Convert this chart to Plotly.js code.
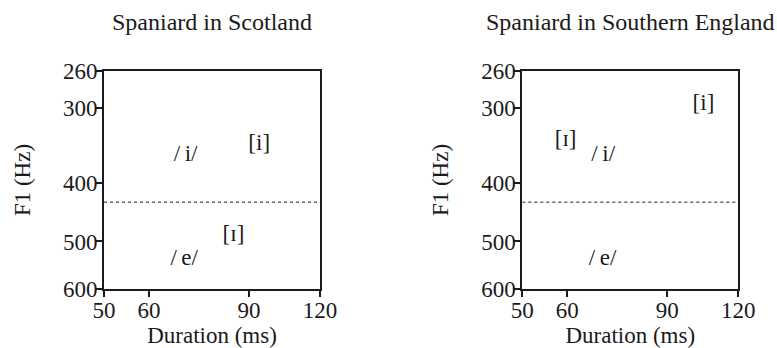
<!DOCTYPE html>
<html>
<head>
<meta charset="utf-8">
<script src="https://cdn.plot.ly/plotly-3.0.1.min.js"></script>
<style>html,body{margin:0;padding:0;background:#fff;}#chart{width:777px;height:348px;}</style>
</head>
<body>
<div id="chart"></div>
<script>
// Panel titles
const panelTitles = ["Spaniard in Scotland", "Spaniard in Southern England"];
// Axis ticks
const xTicks = [50, 60, 90, 120];
const yTicks = [260, 300, 400, 500, 600];
const xRange = [50, 120];
const yRange = [260, 600];
// Dotted boundary (F1, Hz)
const boundaryF1 = 430;
// Labels per panel: text, duration (ms), F1 (Hz)
const scotLabels = ["/\u2009i/", "[i]", "[\u026A]", "/\u2009e/"];
const scotDur = [69.6, 93.8, 84.5, 69.2];
const scotF1 = [359, 345, 489, 536];
const engLabels = ["[i]", "[\u026A]", "/\u2009i/", "/\u2009e/"];
const engDur = [104.2, 59.6, 69.4, 69.2];
const engF1 = [295, 339, 359, 536];

const FONT = "'Liberation Serif', 'Times New Roman', serif";
const INK = "#1a1a1a";

function xax(domain, anchor) {
  return {
    domain: domain, anchor: anchor, type: "log",
    range: [Math.log10(xRange[0]), Math.log10(xRange[1])],
    tickvals: xTicks, ticktext: xTicks.map(String),
    ticks: "outside", ticklen: 6, tickwidth: 2, tickcolor: INK,
    ticklabelstandoff: -7,
    showline: true, linewidth: 2, linecolor: INK, mirror: true,
    showgrid: false, zeroline: false,
    tickfont: {family: FONT, size: 23, color: INK},
    title: {text: "Duration (ms)", font: {family: FONT, size: 23, color: INK}, standoff: 3}
  };
}
function yax(domain, anchor) {
  return {
    domain: domain, anchor: anchor, type: "log",
    range: [Math.log10(yRange[1]), Math.log10(yRange[0])],
    tickvals: yTicks, ticktext: yTicks.map(String),
    ticks: "outside", ticklen: 7, tickwidth: 2, tickcolor: INK,
    ticklabelstandoff: -7,
    showline: true, linewidth: 2, linecolor: INK, mirror: true,
    showgrid: false, zeroline: false,
    tickfont: {family: FONT, size: 23, color: INK},
    title: {text: "F1 (Hz)", font: {family: FONT, size: 23, color: INK}, standoff: 26}
  };
}

const traces = [
  {x: scotDur, y: scotF1, xaxis: "x", yaxis: "y", mode: "text", text: scotLabels,
   textfont: {family: FONT, size: 23, color: INK}, hoverinfo: "skip", showlegend: false},
  {x: engDur, y: engF1, xaxis: "x2", yaxis: "y2", mode: "text", text: engLabels,
   textfont: {family: FONT, size: 23, color: INK}, hoverinfo: "skip", showlegend: false}
];

const yDom = [1 - 289/348, 1 - 71/348];
const layout = {
  width: 777, height: 348,
  margin: {l: 0, r: 0, t: 0, b: 0},
  paper_bgcolor: "#fff", plot_bgcolor: "#fff",
  showlegend: false,
  xaxis: xax([104/777, 320/777], "y"),
  yaxis: yax(yDom, "x"),
  xaxis2: xax([522.3/777, 738.3/777], "y2"),
  yaxis2: yax(yDom, "x2"),
  shapes: [
    {type: "line", xref: "x", yref: "y", x0: xRange[0], x1: xRange[1], y0: boundaryF1, y1: boundaryF1,
     line: {color: INK, width: 1, dash: "dot"}},
    {type: "line", xref: "x2", yref: "y2", x0: xRange[0], x1: xRange[1], y0: boundaryF1, y1: boundaryF1,
     line: {color: INK, width: 1, dash: "dot"}}
  ],
  annotations: [
    {text: panelTitles[0], xref: "paper", yref: "paper", x: 212/777, y: 1 - 22/348,
     xanchor: "center", yanchor: "middle", showarrow: false, font: {family: FONT, size: 24, color: INK}},
    {text: panelTitles[1], xref: "paper", yref: "paper", x: 630.3/777, y: 1 - 22/348,
     xanchor: "center", yanchor: "middle", showarrow: false, font: {family: FONT, size: 24, color: INK}}
  ]
};

Plotly.newPlot("chart", traces, layout, {staticPlot: true, displayModeBar: false});
</script>
</body>
</html>
